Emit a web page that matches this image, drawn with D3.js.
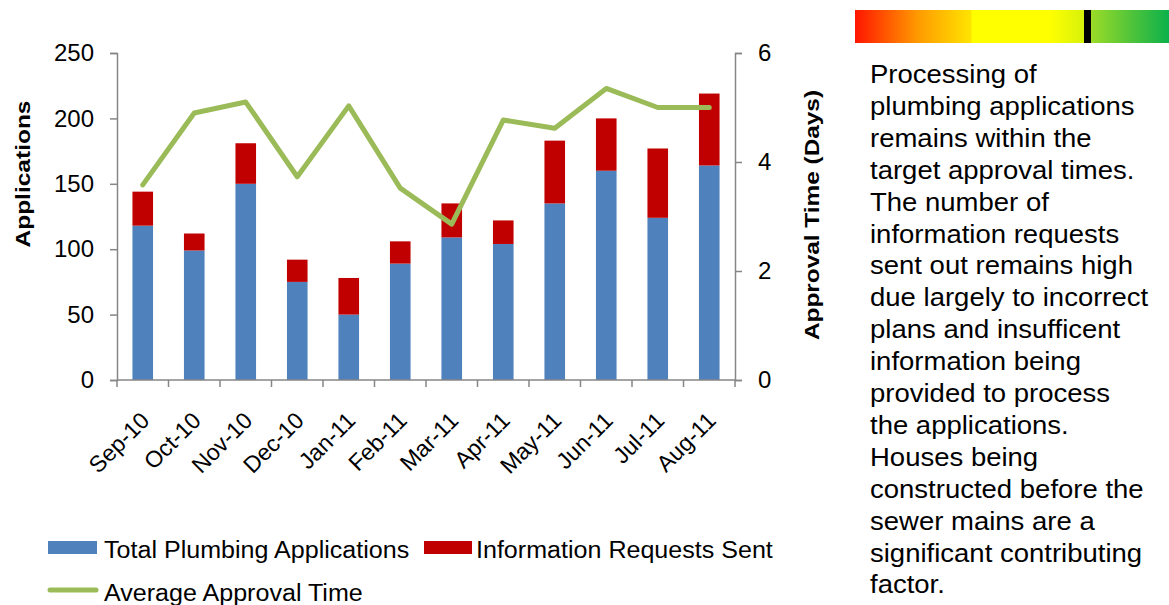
<!DOCTYPE html>
<html>
<head>
<meta charset="utf-8">
<script src="https://cdn.jsdelivr.net/npm/d3@7"></script>
<style>
  html, body { margin: 0; padding: 0; background: #fff; }
  svg { display: block; font-family: "Liberation Sans", Arial, sans-serif; }
</style>
</head>
<body>
<svg id="chart" width="1169" height="605"></svg>
<script>
// ---- data ----
const months = ["Sep-10","Oct-10","Nov-10","Dec-10","Jan-11","Feb-11","Mar-11","Apr-11","May-11","Jun-11","Jul-11","Aug-11"];
const totalApplications = [118, 99, 150, 75, 50, 89, 109, 104, 135, 160, 124, 164];
const infoRequests      = [26, 13, 31, 17, 28, 17, 26, 18, 48, 40, 53, 55];
const approvalTime      = [3.58, 4.90, 5.10, 3.73, 5.03, 3.52, 2.86, 4.77, 4.62, 5.35, 5.0, 5.0];
const leftTicks = [0, 50, 100, 150, 200, 250];
const rightTicks = [0, 2, 4, 6];
const seriesNames = ["Total Plumbing Applications", "Information Requests Sent", "Average Approval Time"];
const commentary = [
  "Processing of",
  "plumbing applications",
  "remains within the",
  "target approval times.",
  "The number of",
  "information requests",
  "sent out remains high",
  "due largely to incorrect",
  "plans and insufficent",
  "information being",
  "provided to process",
  "the applications.",
  "Houses being",
  "constructed before the",
  "sewer mains are a",
  "significant contributing",
  "factor."
];

// ---- setup ----
const svg = d3.select("#chart");
const C = { blue: "#4F81BD", red: "#C00000", green: "#9BBB59", axis: "#868686", text: "#000" };
const plot = { left: 117, right: 735, top: 53, bottom: 380 };

const x = d3.scaleBand().domain(months).range([plot.left, plot.right]).paddingInner(0.6).paddingOuter(0.3);
const yL = d3.scaleLinear().domain([0, 250]).range([plot.bottom, plot.top]);
const yR = d3.scaleLinear().domain([0, 6]).range([plot.bottom, plot.top]);

// ---- bars ----
const stacked = months.map((m, i) => ({ m, a: totalApplications[i], r: infoRequests[i] }));
const g = svg.append("g");
g.selectAll("rect.blue").data(stacked).join("rect")
  .attr("x", d => x(d.m)).attr("width", x.bandwidth())
  .attr("y", d => yL(d.a)).attr("height", d => yL(0) - yL(d.a))
  .attr("fill", C.blue);
g.selectAll("rect.red").data(stacked).join("rect")
  .attr("x", d => x(d.m)).attr("width", x.bandwidth())
  .attr("y", d => yL(d.a + d.r)).attr("height", d => yL(d.a) - yL(d.a + d.r))
  .attr("fill", C.red);

// ---- axes ----
const axL = d3.axisLeft(yL).tickValues(leftTicks).tickFormat(d3.format("d")).tickSize(7).tickPadding(16);
const axR = d3.axisRight(yR).tickValues(rightTicks).tickFormat(d3.format("d")).tickSize(7).tickPadding(16);
function styleAxis(sel) {
  sel.select(".domain").attr("stroke", C.axis).attr("stroke-width", 1.5);
  sel.selectAll(".tick line").attr("stroke", C.axis).attr("stroke-width", 1.5);
  sel.selectAll(".tick text").attr("fill", C.text).style("font-size", "24px").attr("font-family", "Liberation Sans, Arial, sans-serif");
}
svg.append("g").attr("transform", `translate(${plot.left},0)`).call(axL).call(styleAxis);
svg.append("g").attr("transform", `translate(${plot.right},0)`).call(axR).call(styleAxis);

// x axis line and ticks at band boundaries
const xa = svg.append("g");
xa.append("line").attr("x1", plot.left).attr("x2", plot.right).attr("y1", plot.bottom).attr("y2", plot.bottom)
  .attr("stroke", C.axis).attr("stroke-width", 1.5);
const bounds = d3.range(months.length + 1).map(i => plot.left + i * x.step());
xa.selectAll("line.t").data(bounds).join("line")
  .attr("x1", d => d).attr("x2", d => d).attr("y1", plot.bottom).attr("y2", plot.bottom + 7)
  .attr("stroke", C.axis).attr("stroke-width", 1.5);
xa.selectAll("text").data(months).join("text")
  .attr("transform", d => `translate(${x(d) + x.bandwidth() / 2 + 8},${plot.bottom + 42}) rotate(-45)`)
  .attr("text-anchor", "end")
  .style("font-size", "23px")
  .attr("fill", C.text)
  .text(d => d);

// ---- line ----
const line = d3.line().x((d, i) => x(months[i]) + x.bandwidth() / 2).y(d => yR(d));
svg.append("path").datum(approvalTime).attr("d", line)
  .attr("fill", "none").attr("stroke", C.green).attr("stroke-width", 5)
  .attr("stroke-linejoin", "round").attr("stroke-linecap", "round");

// ---- axis titles ----
svg.append("text").attr("transform", "translate(30,174) rotate(-90)")
  .attr("text-anchor", "middle").style("font-size", "21px").style("font-weight", "bold")
  .attr("textLength", 147).attr("lengthAdjust", "spacingAndGlyphs")
  .text("Applications");
svg.append("text").attr("transform", "translate(819,215) rotate(-90)")
  .attr("text-anchor", "middle").style("font-size", "21px").style("font-weight", "bold")
  .attr("textLength", 250).attr("lengthAdjust", "spacingAndGlyphs")
  .text("Approval Time (Days)");

// ---- legend ----
function stretch(sel, f) {
  sel.each(function () {
    const w = this.getComputedTextLength();
    d3.select(this).attr("textLength", w * f).attr("lengthAdjust", "spacingAndGlyphs");
  });
}
const lg = svg.append("g");
lg.append("rect").attr("x", 48).attr("y", 541).attr("width", 49).attr("height", 13).attr("fill", C.blue);
lg.append("text").attr("x", 104).attr("y", 558).style("font-size", "23px").text(seriesNames[0]).call(stretch, 1.09);
lg.append("rect").attr("x", 424).attr("y", 541).attr("width", 48).attr("height", 13).attr("fill", C.red);
lg.append("text").attr("x", 476).attr("y", 558).style("font-size", "23px").text(seriesNames[1]).call(stretch, 1.09);
lg.append("line").attr("x1", 50).attr("x2", 96).attr("y1", 590).attr("y2", 590)
  .attr("stroke", C.green).attr("stroke-width", 5).attr("stroke-linecap", "round");
lg.append("text").attr("x", 104).attr("y", 601).style("font-size", "23px").text(seriesNames[2]).call(stretch, 1.09);

// ---- status gradient bar ----
const defs = svg.append("defs");
const grad = defs.append("linearGradient").attr("id", "status").attr("x1", "0%").attr("x2", "100%");
[[0, "#FF1500"], [0.2, "#FF9A00"], [0.37, "#FFE400"], [0.372, "#FFFF00"], [0.62, "#FFFF00"],
 [0.726, "#D8F20A"], [0.755, "#9ADB28"], [0.88, "#50C43A"], [1, "#0CB14B"]]
  .forEach(([o, c]) => grad.append("stop").attr("offset", o).attr("stop-color", c));
svg.append("rect").attr("x", 855).attr("y", 10).attr("width", 314).attr("height", 33).attr("fill", "url(#status)");
svg.append("rect").attr("x", 1084).attr("y", 10).attr("width", 7).attr("height", 33).attr("fill", "#000");

// ---- commentary ----
const tx = svg.append("text").attr("x", 870).attr("y", 83).style("font-size", "25px").attr("fill", C.text);
commentary.forEach((s, i) => {
  tx.append("tspan").attr("x", 870).attr("y", 83 + i * 31.9).text(s);
});
tx.selectAll("tspan").each(function () {
  const w = this.getComputedTextLength();
  d3.select(this).attr("textLength", w * 1.1).attr("lengthAdjust", "spacingAndGlyphs");
});
</script>
</body>
</html>
